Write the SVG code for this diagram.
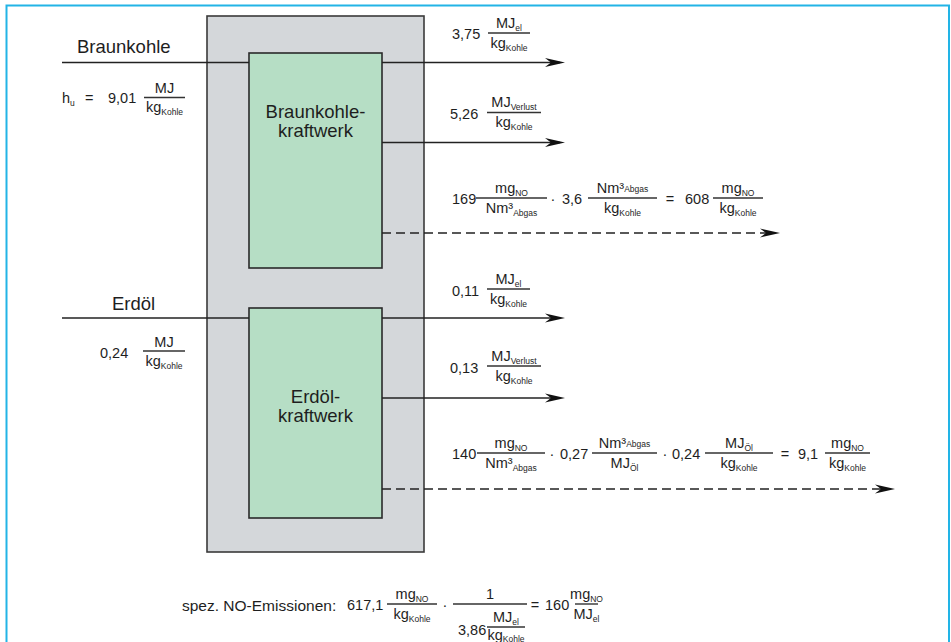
<svg xmlns="http://www.w3.org/2000/svg" width="951" height="642" viewBox="0 0 951 642">
<defs>
<style>
.t{font-family:"Liberation Sans",Arial,Helvetica,sans-serif;fill:#1e1e1e}
.big{font-size:18.5px}
.f{font-size:14.5px}
.s{font-size:8.5px}
.m{text-anchor:middle}
.fl{stroke:#333;stroke-width:1.4}
.ln{stroke:#222;stroke-width:1.6;fill:none}
.dash{stroke-dasharray:9 5}
</style>
<marker id="ah" markerUnits="userSpaceOnUse" markerWidth="20" markerHeight="10" refX="15" refY="4.5" orient="auto" overflow="visible">
<path d="M0,0 L20,4.5 L0,9 L6,4.5 Z" fill="#111"/>
</marker>
</defs>
<rect width="951" height="642" fill="#ffffff"/>
<path d="M6.5,650 V5.5 H949 V650" fill="none" stroke="#22b4e6" stroke-width="2"/>

<g id="anlage">
<rect x="207" y="16" width="217" height="536" fill="#d4d7da" stroke="#3a3a3a" stroke-width="1.6"/>
</g>
<g id="braunkohlekraftwerk">
<rect x="249" y="53" width="133" height="215" fill="#b6dec5" stroke="#2a2a2a" stroke-width="1.6"/>
<text class="t big m" x="315.5" y="118">Braunkohle-</text>
<text class="t big m" x="315.5" y="137">kraftwerk</text>
</g>
<g id="erdoelkraftwerk">
<rect x="249" y="308" width="133" height="210" fill="#b6dec5" stroke="#2a2a2a" stroke-width="1.6"/>
<text class="t big m" x="315.5" y="403">Erdöl-</text>
<text class="t big m" x="315.5" y="422">kraftwerk</text>
</g>

<g id="connectors">
<path class="ln" d="M62,62.5 H249"/>
<path class="ln" d="M382,62.5 H560" marker-end="url(#ah)"/>
<path class="ln" d="M382,142.5 H560" marker-end="url(#ah)"/>
<path class="ln dash" d="M382,233 H775" marker-end="url(#ah)"/>
<path class="ln" d="M62,318 H249"/>
<path class="ln" d="M382,318 H560" marker-end="url(#ah)"/>
<path class="ln" d="M382,398 H560" marker-end="url(#ah)"/>
<path class="ln dash" d="M382,489 H890" marker-end="url(#ah)"/>
</g>

<g id="label-braunkohle">
<text class="t big" x="77" y="53">Braunkohle</text>
<text class="t f" x="62" y="103">h<tspan class="s" dy="3">u</tspan></text>
<text class="t f" x="85" y="103">=</text>
<text class="t f" x="108" y="103">9,01</text>
<line class="fl" x1="144" y1="97.5" x2="185" y2="97.5"/>
<text class="t f m" x="164.5" y="93">MJ</text>
<text class="t f m" x="164.5" y="112">kg<tspan class="s" dy="3">Kohle</tspan></text>
</g>

<g id="label-erdoel">
<text class="t big" x="112" y="310">Erdöl</text>
<text class="t f" x="100" y="358">0,24</text>
<line class="fl" x1="143" y1="351" x2="185" y2="351"/>
<text class="t f m" x="164" y="346.5">MJ</text>
<text class="t f m" x="164" y="365.5">kg<tspan class="s" dy="3">Kohle</tspan></text>
</g>

<g id="label-strom-bk">
<text class="t f" x="452" y="39">3,75</text>
<line class="fl" x1="488" y1="33" x2="530" y2="33"/>
<text class="t f m" x="509" y="27.5">MJ<tspan class="s" dy="3">el</tspan></text>
<text class="t f m" x="509" y="47.5">kg<tspan class="s" dy="3">Kohle</tspan></text>
</g>
<g id="label-verlust-bk">
<text class="t f" x="450" y="119">5,26</text>
<line class="fl" x1="487" y1="112.5" x2="541" y2="112.5"/>
<text class="t f m" x="514" y="107">MJ<tspan class="s" dy="3">Verlust</tspan></text>
<text class="t f m" x="514" y="127">kg<tspan class="s" dy="3">Kohle</tspan></text>
</g>
<g id="label-no-bk">
<text class="t f" x="452" y="204">169</text>
<line class="fl" x1="476" y1="198" x2="547" y2="198"/>
<text class="t f m" x="511.5" y="192.5">mg<tspan class="s" dy="3">NO</tspan></text>
<text class="t f m" x="511.5" y="213">Nm³<tspan class="s" dy="3">Abgas</tspan></text>
<text class="t f m" x="553" y="204">·</text>
<text class="t f" x="562" y="204">3,6</text>
<line class="fl" x1="588" y1="198" x2="657" y2="198"/>
<text class="t f m" x="622.5" y="192.5">Nm³<tspan class="s" dy="-1">Abgas</tspan></text>
<text class="t f m" x="622.5" y="213">kg<tspan class="s" dy="3">Kohle</tspan></text>
<text class="t f m" x="670" y="204">=</text>
<text class="t f" x="685" y="204">608</text>
<line class="fl" x1="713" y1="198" x2="763" y2="198"/>
<text class="t f m" x="738" y="192.5">mg<tspan class="s" dy="3">NO</tspan></text>
<text class="t f m" x="738" y="213">kg<tspan class="s" dy="3">Kohle</tspan></text>
</g>

<g id="label-strom-oel">
<text class="t f" x="452" y="295.5">0,11</text>
<line class="fl" x1="487" y1="289" x2="530" y2="289"/>
<text class="t f m" x="508.5" y="283.5">MJ<tspan class="s" dy="3">el</tspan></text>
<text class="t f m" x="508.5" y="303.5">kg<tspan class="s" dy="3">Kohle</tspan></text>
</g>
<g id="label-verlust-oel">
<text class="t f" x="450" y="372.5">0,13</text>
<line class="fl" x1="487" y1="366" x2="541" y2="366"/>
<text class="t f m" x="514" y="360.5">MJ<tspan class="s" dy="3">Verlust</tspan></text>
<text class="t f m" x="514" y="380.5">kg<tspan class="s" dy="3">Kohle</tspan></text>
</g>
<g id="label-no-oel">
<text class="t f" x="452" y="459">140</text>
<line class="fl" x1="477" y1="453" x2="545" y2="453"/>
<text class="t f m" x="511" y="447.5">mg<tspan class="s" dy="3">NO</tspan></text>
<text class="t f m" x="511" y="468">Nm³<tspan class="s" dy="3">Abgas</tspan></text>
<text class="t f m" x="552" y="459">·</text>
<text class="t f" x="560" y="459">0,27</text>
<line class="fl" x1="592" y1="453" x2="657" y2="453"/>
<text class="t f m" x="624.5" y="447.5">Nm³<tspan class="s" dy="-1">Abgas</tspan></text>
<text class="t f m" x="624.5" y="468">MJ<tspan class="s" dy="3">Öl</tspan></text>
<text class="t f m" x="665" y="459">·</text>
<text class="t f" x="672" y="459">0,24</text>
<line class="fl" x1="705" y1="453" x2="773" y2="453"/>
<text class="t f m" x="739" y="447.5">MJ<tspan class="s" dy="3">Öl</tspan></text>
<text class="t f m" x="739" y="468">kg<tspan class="s" dy="3">Kohle</tspan></text>
<text class="t f m" x="785" y="459">=</text>
<text class="t f" x="798" y="459">9,1</text>
<line class="fl" x1="825" y1="453" x2="870" y2="453"/>
<text class="t f m" x="847.5" y="447.5">mg<tspan class="s" dy="3">NO</tspan></text>
<text class="t f m" x="847.5" y="468">kg<tspan class="s" dy="3">Kohle</tspan></text>
</g>

<g id="label-spez" transform="translate(0,-2.5)">
<text class="t" style="font-size:15.5px" x="182" y="613">spez. NO-Emissionen:</text>
<text class="t f" x="347" y="612.5">617,1</text>
<line class="fl" x1="387" y1="606.5" x2="437" y2="606.5"/>
<text class="t f m" x="412" y="601">mg<tspan class="s" dy="3">NO</tspan></text>
<text class="t f m" x="412" y="621">kg<tspan class="s" dy="3">Kohle</tspan></text>
<text class="t f m" x="445" y="612.5">·</text>
<line class="fl" x1="453" y1="606.5" x2="527" y2="606.5"/>
<text class="t f m" x="490" y="601">1</text>
<text class="t f" x="458" y="637">3,86</text>
<line class="fl" x1="487" y1="629.5" x2="525" y2="629.5"/>
<text class="t f m" x="506" y="624.5">MJ<tspan class="s" dy="3">el</tspan></text>
<text class="t f m" x="506" y="642">kg<tspan class="s" dy="2">Kohle</tspan></text>
<text class="t f m" x="535" y="612.5">=</text>
<text class="t f" x="545" y="612.5">160</text>
<line class="fl" x1="575" y1="606.5" x2="598" y2="606.5"/>
<text class="t f m" x="586.5" y="601">mg<tspan class="s" dy="3">NO</tspan></text>
<text class="t f m" x="586.5" y="621">MJ<tspan class="s" dy="3">el</tspan></text>
</g>
</svg>
